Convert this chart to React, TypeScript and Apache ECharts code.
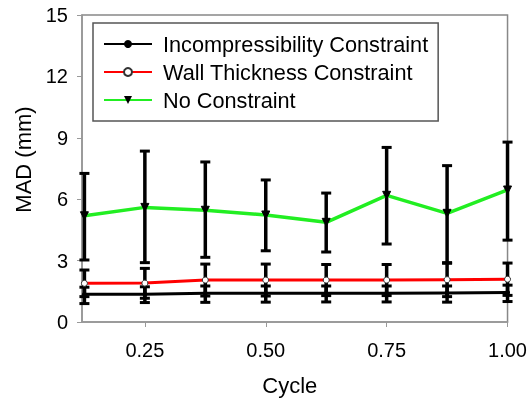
import React, { useEffect, useRef } from "react";
import * as echarts from "echarts";

const cycles = [0.125, 0.25, 0.375, 0.5, 0.625, 0.75, 0.875, 1.0];
const xTickValues = [0.25, 0.5, 0.75, 1.0];

const incompMean = [1.35, 1.35, 1.4, 1.4, 1.4, 1.4, 1.42, 1.44];
const incompLow = [0.9, 0.95, 0.96, 0.97, 0.98, 0.98, 0.97, 1.0];
const incompHigh = [1.7, 1.72, 1.76, 1.76, 1.76, 1.76, 1.76, 1.8];

const wallMean = [1.89, 1.9, 2.05, 2.05, 2.05, 2.05, 2.07, 2.09];
const wallLow = [1.24, 1.16, 1.27, 1.27, 1.29, 1.29, 1.24, 1.3];
const wallHigh = [2.54, 2.62, 2.83, 2.83, 2.81, 2.81, 2.9, 2.88];

const noMean = [5.19, 5.6, 5.46, 5.23, 4.87, 6.19, 5.31, 6.45];
const noLow = [3.03, 2.9, 3.16, 3.48, 3.42, 3.81, 2.87, 4.0];
const noHigh = [7.26, 8.35, 7.82, 6.94, 6.3, 8.53, 7.64, 8.79];

const seriesNames = [
  "Incompressibility Constraint",
  "Wall Thickness Constraint",
  "No Constraint",
];

const FONT = "Liberation Sans";

function errData(lo: number[], hi: number[]) {
  return cycles.map((c, i) => [c, lo[i], hi[i]]);
}

function lineData(m: number[]) {
  return cycles.map((c, i) => [c, m[i]]);
}

const renderErr = (params: any, api: any) => {
  const x = api.value(0);
  const lo = api.coord([x, api.value(1)]);
  const hi = api.coord([x, api.value(2)]);
  const cap = 5;
  const style = { stroke: "#000", lineWidth: 3.5 };
  return {
    type: "group",
    children: [
      { type: "line", shape: { x1: lo[0], y1: lo[1], x2: hi[0], y2: hi[1] }, style },
      { type: "line", shape: { x1: lo[0] - cap, y1: lo[1], x2: lo[0] + cap, y2: lo[1] }, style: { stroke: "#000", lineWidth: 3 } },
      { type: "line", shape: { x1: hi[0] - cap, y1: hi[1], x2: hi[0] + cap, y2: hi[1] }, style: { stroke: "#000", lineWidth: 3 } },
    ],
  };
};

export default function App() {
  const ref = useRef<HTMLDivElement>(null);
  useEffect(() => {
    if (!ref.current) return;
    const chart = echarts.init(ref.current, undefined, { renderer: "svg" });
    chart.setOption({
      animation: false,
      textStyle: { fontFamily: FONT },
      grid: {
        left: 82,
        right: 21,
        top: 15,
        bottom: 85,
        show: true,
        borderColor: "#888",
        borderWidth: 1.5,
        backgroundColor: "transparent",
      },
      legend: {
        orient: "vertical",
        left: 93,
        top: 23,
        padding: [10, 10, 10, 10],
        itemGap: 6,
        itemWidth: 48,
        itemHeight: 10,
        borderColor: "#555",
        borderWidth: 1.5,
        textStyle: { fontSize: 21.7, color: "#000", fontFamily: FONT, padding: [0, 0, 0, 6] },
        data: seriesNames,
      },
      xAxis: {
        type: "value",
        min: 0.12,
        max: 1.0,
        name: "Cycle",
        nameLocation: "middle",
        nameGap: 52,
        nameTextStyle: { fontSize: 22, color: "#000", fontFamily: FONT, padding: [0, 10, 0, 0] },
        axisLine: { show: true, lineStyle: { color: "#999", width: 1.5 } },
        axisTick: { show: true, length: 5, customValues: xTickValues, lineStyle: { color: "#999" } },
        axisLabel: {
          customValues: xTickValues,
          fontSize: 20,
          color: "#000",
          margin: 18,
          fontFamily: FONT,
          formatter: (v: number) => v.toFixed(2),
        },
        splitLine: { show: false },
      },
      yAxis: {
        type: "value",
        min: 0,
        max: 15,
        interval: 3,
        name: "MAD (mm)",
        nameLocation: "middle",
        nameGap: 44,
        nameTextStyle: { fontSize: 22, color: "#000", fontFamily: FONT, padding: [0, 0, 0, 18] },
        axisLine: { show: true, lineStyle: { color: "#999", width: 1.5 } },
        axisTick: { show: true, length: 5, lineStyle: { color: "#999" } },
        axisLabel: { fontSize: 20, color: "#000", margin: 14, fontFamily: FONT },
        splitLine: { show: false },
      },
      series: [
        {
          type: "custom",
          name: "errIncomp",
          renderItem: renderErr,
          data: errData(incompLow, incompHigh),
          z: 1,
          encode: { x: 0, y: [1, 2] },
        },
        {
          type: "custom",
          name: "errWall",
          renderItem: renderErr,
          data: errData(wallLow, wallHigh),
          z: 1,
          encode: { x: 0, y: [1, 2] },
        },
        {
          type: "custom",
          name: "errNo",
          renderItem: renderErr,
          data: errData(noLow, noHigh),
          z: 1,
          encode: { x: 0, y: [1, 2] },
        },
        {
          type: "line",
          name: seriesNames[2],
          data: lineData(noMean),
          z: 3,
          symbol: "triangle",
          symbolRotate: 180,
          symbolSize: 8,
          itemStyle: { color: "#000", borderColor: "#000" },
          lineStyle: { color: "#22ee22", width: 3.5 },
          color: "#22ee22",
        },
        {
          type: "line",
          name: seriesNames[1],
          data: lineData(wallMean),
          z: 4,
          symbol: "circle",
          symbolSize: 6,
          itemStyle: { color: "#fff", borderColor: "#333", borderWidth: 1 },
          lineStyle: { color: "#ff0000", width: 3 },
        },
        {
          type: "line",
          name: seriesNames[0],
          data: lineData(incompMean),
          z: 5,
          symbol: "circle",
          symbolSize: 5,
          itemStyle: { color: "#000" },
          lineStyle: { color: "#000", width: 3 },
        },
      ],
    });
    return () => chart.dispose();
  }, []);
  return (
    <div
      ref={ref}
      style={{ position: "fixed", left: 0, top: 0, width: 530, height: 407 }}
    />
  );
}
